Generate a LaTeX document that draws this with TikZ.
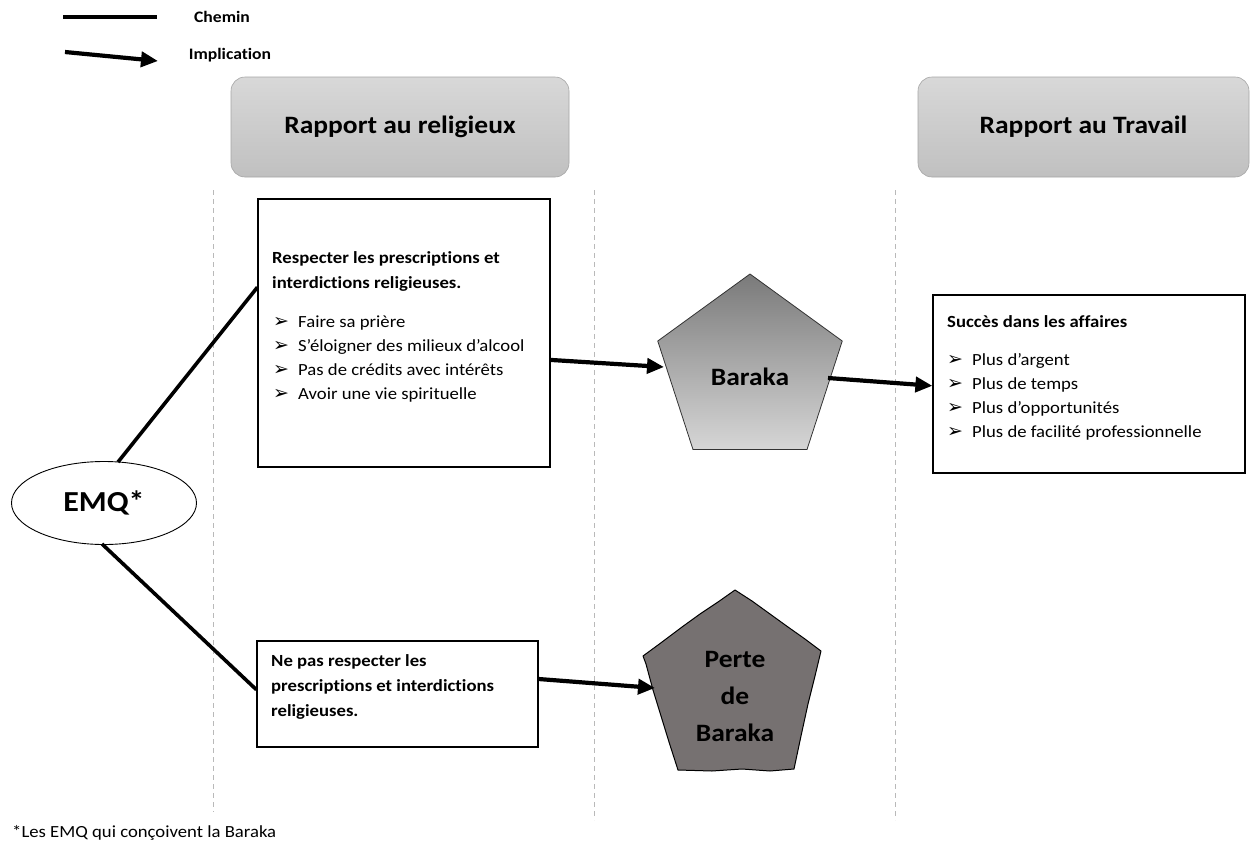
\documentclass[tikz,border=0pt]{standalone}
\usepackage{fontspec}
\setmainfont{Carlito}[FakeStretch=1.1,Ligatures=NoCommon]
\newfontfamily\symfont{DejaVu Sans}
\usetikzlibrary{shapes.geometric,arrows.meta,calc}

\definecolor{lanegray}{RGB}{185,185,185}
\definecolor{hdrtop}{RGB}{216,216,216}
\definecolor{hdrbot}{RGB}{192,192,192}
\definecolor{hdrline}{RGB}{165,165,165}
\definecolor{barakatop}{RGB}{122,122,122}
\definecolor{barakabot}{RGB}{214,214,214}
\definecolor{pertefill}{RGB}{118,113,113}

\newcommand{\bul}{\makebox[25pt][l]{\symfont\fontsize{19}{19}\selectfont ➢}}

\begin{document}
\begin{tikzpicture}[x=1pt,y=-1pt,
  linkpath/.style={line width=3.6pt},
  implies/.style={line width=4.2pt,-{Triangle[length=17pt,width=15pt]}},
  header/.style={rounded corners=14pt,draw=hdrline,line width=0.6pt,
    top color=hdrtop,bottom color=hdrbot,minimum height=100pt,
    font=\bfseries\fontsize{25}{30}\selectfont},
  lane/.style={draw=lanegray,line width=0.8pt,dash pattern=on 5pt off 4pt},
  textbox/.style={draw,line width=1.2pt,fill=white},
  body/.style={font=\fontsize{17}{20}\selectfont,anchor=base west,inner sep=0pt},
  bodybold/.style={font=\bfseries\fontsize{17}{20}\selectfont,anchor=base west,inner sep=0pt}]

\useasboundingbox (0,0) rectangle (1251,846);

% legend
\coordinate (lgA) at (63,17);
\coordinate (lgB) at (157,17);
\coordinate (lgC) at (65,52);
\coordinate (lgD) at (158,61);
\draw[linkpath] (lgA) -- (lgB);
\draw[implies] (lgC) -- (lgD);
\node[font=\bfseries\fontsize{16}{18}\selectfont] (lgchemin) at (222,17) {Chemin};
\node[font=\bfseries\fontsize{16}{18}\selectfont] (lgimpl) at (230,55) {Implication};

% lanes
\coordinate (l1t) at (213,190); \coordinate (l1b) at (213,812);
\coordinate (l2t) at (594,190); \coordinate (l2b) at (594,820);
\coordinate (l3t) at (895,190); \coordinate (l3b) at (895,820);
\draw[lane] (l1t) -- (l1b);
\draw[lane] (l2t) -- (l2b);
\draw[lane] (l3t) -- (l3b);

% column headers
\node[header,minimum width=338pt] (hdrrel) at (400,127) {Rapport au religieux};
\node[header,minimum width=331pt] (hdrtrav) at (1083.5,127) {Rapport au Travail};

% respecting the prescriptions
\node[textbox,minimum width=292pt,minimum height=268pt] (resp) at (404,333) {};
\node[bodybold] (resp1) at (272,263) {Respecter les prescriptions et};
\node[bodybold] (resp2) at (272,288) {interdictions religieuses.};
\node[body] (respa) at (273,327) {\bul Faire sa prière};
\node[body] (respb) at (273,351) {\bul S’éloigner des milieux d’alcool};
\node[body] (respc) at (273,375) {\bul Pas de crédits avec intérêts};
\node[body] (respd) at (273,399) {\bul Avoir une vie spirituelle};

% not respecting them
\node[textbox,minimum width=281pt,minimum height=106pt] (neg) at (397.5,694) {};
\node[bodybold] (neg1) at (271,666) {Ne pas respecter les};
\node[bodybold] (neg2) at (271,691) {prescriptions et interdictions};
\node[bodybold] (neg3) at (271,716) {religieuses.};

% business success
\node[textbox,minimum width=312pt,minimum height=178pt] (succ) at (1089,384) {};
\node[bodybold] (succh) at (947,327) {Succès dans les affaires};
\node[body] (succa) at (947,365) {\bul Plus d’argent};
\node[body] (succb) at (947,389) {\bul Plus de temps};
\node[body] (succc) at (947,413) {\bul Plus d’opportunités};
\node[body] (succd) at (947,437) {\bul Plus de facilité professionnelle};

% EMQ
\node[ellipse,draw,line width=0.9pt,minimum width=185pt,minimum height=83pt,
  font=\bfseries\fontsize{29}{34}\selectfont] (emq) at (104,503) {EMQ*};

% Baraka
\node[regular polygon,regular polygon sides=5,minimum size=194pt,draw=black!80,
  line width=0.8pt,top color=barakatop,bottom color=barakabot] (baraka) at (750,371) {};
\node[font=\bfseries\fontsize{25}{30}\selectfont] (barakat) at (750,377) {Baraka};

% loss of Baraka (hand-drawn outline)
\node[regular polygon,regular polygon sides=5,minimum size=186pt] (perte) at (735,683) {};
\filldraw[fill=pertefill,draw=black,line width=1pt,line join=round]
  (735,590) -- (752,601) -- (770,614) -- (788,627) -- (805,639) -- (821,651)
  -- (815,676) -- (808,704) -- (801,736) -- (794,769)
  -- (770,771) -- (742,769) -- (712,771) -- (678,770)
  -- (669,742) -- (661,716) -- (653,690) -- (646,664) -- (643,656)
  -- (658,645) -- (670,636) -- (682,627) -- (700,614) -- (718,602) -- cycle;
\node[font=\bfseries\fontsize{25}{37}\selectfont,align=center] (pertet) at (735,696)
  {Perte\\de\\Baraka};

% paths
\draw[linkpath] ($(emq.north)+(14,1)$) -- ($(resp.north west)!0.33!(resp.south west)$);
\draw[linkpath] ($(emq.south)+(-2,-1)$) -- ($(neg.north west)!0.46!(neg.south west)$);

% implications
\draw[implies] ($(resp.north east)!0.60!(resp.south east)$) -- ($(baraka.center)+(-86,-4)$);
\draw[implies] ($(baraka.center)+(78,7)$) -- ($(succ.north west)!0.51!(succ.south west)$);
\draw[implies] ($(neg.north east)!0.36!(neg.south east)$) -- ($(perte.center)+(-80,5)$);

% footnote
\node[body] (foot) at (12,837) {*Les EMQ qui conçoivent la Baraka};
\end{tikzpicture}
\end{document}
